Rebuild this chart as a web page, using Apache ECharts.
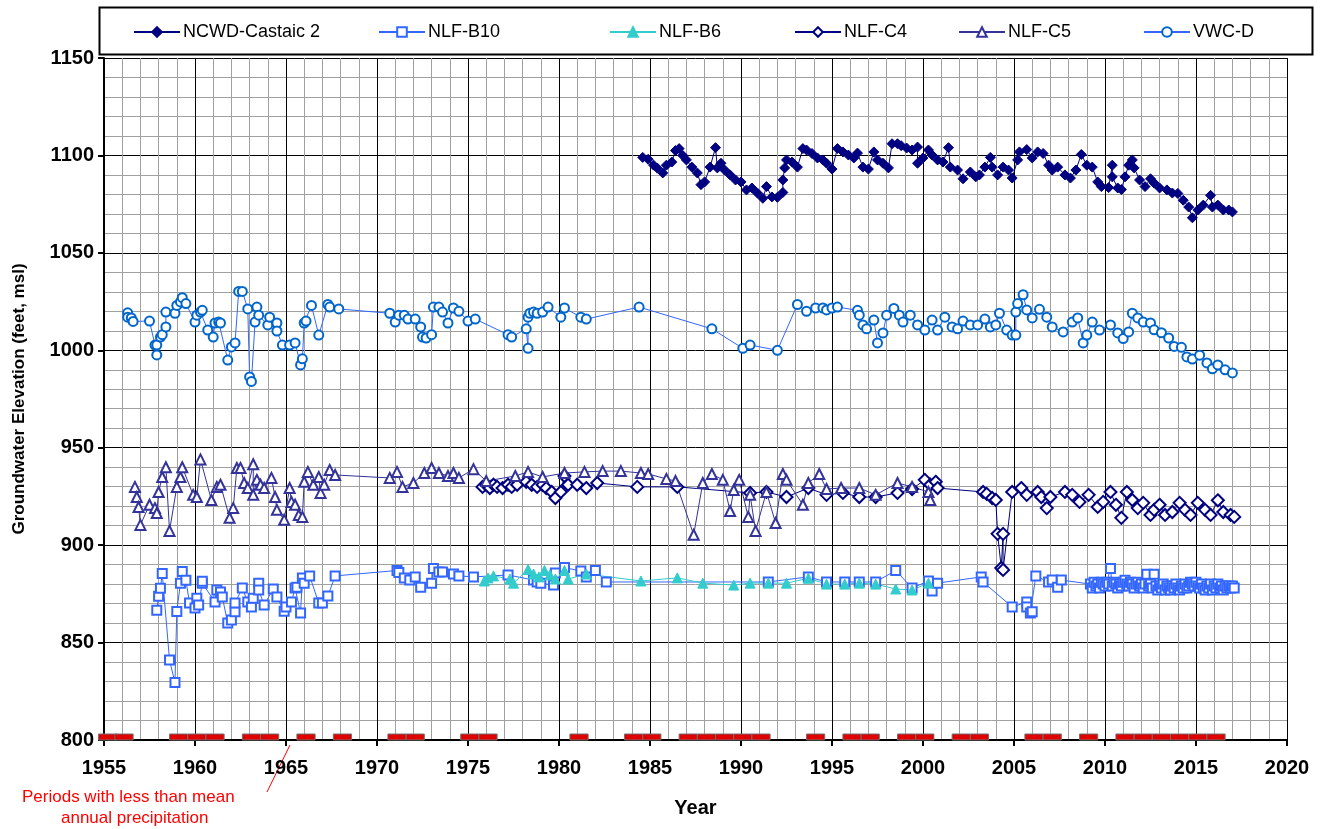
<!DOCTYPE html>
<html>
<head>
<meta charset="utf-8">
<script src="https://cdn.jsdelivr.net/npm/echarts@6/dist/echarts.min.js"></script>
<style>
html,body{margin:0;padding:0;background:#fff;}
#chart{width:1323px;height:829px;}
</style>
</head>
<body>
<div id="chart"></div>
<script>
// ---------------- DATA (year, elevation ft msl) ----------------
const seriesNames = ["NCWD-Castaic 2", "NLF-B10", "NLF-B6", "NLF-C4", "NLF-C5", "VWC-D"];

const ncwdCastaic2 = [
[1984.6,1099],[1984.9,1098],[1985.2,1095],[1985.4,1093.5],[1985.7,1091],[1985.9,1095],[1986.2,1096.6],[1986.4,1102.5],[1986.6,1103.5],[1986.8,1100],
[1987.0,1097.7],[1987.3,1094],[1987.6,1091],[1987.8,1085],[1988.0,1086.4],[1988.3,1094],[1988.6,1104],[1988.7,1093.6],[1988.9,1096],[1989.1,1092.5],
[1989.4,1090],[1989.7,1087.4],[1990.0,1086.4],[1990.3,1082.3],[1990.6,1083.3],[1990.9,1080.7],[1991.2,1078],[1991.4,1084],[1991.7,1078.7],[1992.0,1078.5],
[1992.3,1081],[1992.3,1087.4],[1992.4,1093.6],[1992.5,1097.7],[1992.8,1096.6],[1993.1,1094],[1993.4,1103.5],[1993.6,1102.8],[1993.9,1101],[1994.2,1098.7],
[1994.5,1097.7],[1994.7,1096],[1995.0,1093],[1995.3,1103.5],[1995.6,1101.8],[1995.9,1100.2],[1996.2,1098.7],[1996.4,1101.2],[1996.7,1094],[1997.0,1093],
[1997.3,1101.8],[1997.5,1097.7],[1997.8,1096],[1998.1,1093.6],[1998.3,1106],[1998.6,1106],[1998.8,1105],[1999.1,1103.8],[1999.4,1102.8],[1999.7,1104.3],
[1999.7,1096],[2000.0,1098.7],[2000.3,1102.8],[2000.5,1100.2],[2000.8,1097.7],[2001.1,1096.6],[2001.4,1104],[2001.5,1094],[2001.9,1092.5],[2002.2,1088],
[2002.6,1091.5],[2002.9,1089],[2003.1,1090],[2003.4,1094],[2003.7,1099],[2003.8,1094],[2004.1,1090],[2004.4,1094],[2004.7,1092.5],[2004.9,1088.4],
[2005.2,1097.7],[2005.3,1101.8],[2005.7,1103],[2006.0,1098.7],[2006.3,1101.8],[2006.6,1101],[2006.9,1095],[2007.1,1092.5],[2007.4,1094],[2007.8,1090],
[2008.1,1088.4],[2008.4,1092.5],[2008.7,1100.5],[2009.0,1095],[2009.3,1094],[2009.6,1086.4],[2009.8,1084],[2010.2,1083.5],[2010.4,1095],[2010.4,1089],
[2010.7,1083.3],[2010.9,1082.5],[2011.1,1089],[2011.3,1095],[2011.5,1097.7],[2011.6,1093.6],[2011.9,1087.4],[2012.2,1084],[2012.5,1088],[2012.7,1085.8],
[2013.0,1083.3],[2013.4,1082.3],[2013.7,1080.7],[2014.0,1080.5],[2014.3,1077],[2014.6,1073.5],[2014.8,1068],[2015.1,1072],[2015.4,1074.5],[2015.8,1079.5],
[2015.9,1073.5],[2016.2,1074.5],[2016.5,1072],[2016.8,1072],[2017.0,1071]
];

const nlfB10 = [
[1957.9,866.6],[1958.0,873.8],[1958.1,877.9],[1958.2,885.5],[1958.6,841],[1958.9,829.5],[1959.0,866],[1959.2,880.5],[1959.3,886.5],[1959.5,882],
[1959.7,870.3],[1960.0,867.7],[1960.1,872.8],[1960.2,869.3],[1960.4,880.5],[1960.4,881.5],[1961.1,870.8],[1961.2,877],[1961.4,876],[1961.5,873.4],
[1961.8,860],[1962.0,861.6],[1962.2,865.8],[1962.2,870.3],[1962.6,878],[1962.9,870.8],[1963.1,868.3],[1963.2,872.8],[1963.5,880.5],[1963.5,877],
[1963.8,869.3],[1964.3,877.5],[1964.5,873.4],[1964.9,866.1],[1965.0,868.3],[1965.3,870.8],[1965.5,878],[1965.6,878.4],[1965.8,865.2],[1965.9,883.2],
[1966.0,880.5],[1966.3,884.2],[1966.8,870.3],[1967.0,870.3],[1967.3,873.9],[1967.7,884.2],[1971.1,887],[1971.2,886],[1971.5,883.2],[1971.8,882.1],
[1972.1,883.7],[1972.4,878.4],[1973.0,880.5],[1973.1,888],[1973.4,886.2],[1973.6,886.2],[1974.2,885.2],[1974.5,884.2],[1975.3,883.7],[1977.2,884.7],
[1978.6,882.1],[1978.8,881.1],[1979.0,880.5],[1979.7,879.5],[1979.8,885.7],[1980.3,888.5],[1981.2,886.7],[1981.5,883.7],[1982.0,887],[1982.6,881.1],
[1991.5,881.1],[1993.7,883.7],[1994.7,881.1],[1995.7,881.1],[1996.5,881.1],[1997.4,881.1],[1998.5,887],[1999.4,878],[2000.3,881.6],[2000.5,876.5],
[2000.8,880.5],[2003.2,883.7],[2003.3,881.1],[2004.9,868.3],[2005.7,870.8],[2005.7,868.3],[2005.9,865.2],[2006.0,865.8],[2006.2,884.2],[2006.9,881.1],
[2007.1,882.1],[2007.4,878.4],[2007.6,882.1],
[2009.2,880],[2009.3,878],[2009.4,881],[2009.5,879],[2009.6,880],[2009.7,878],[2009.8,881],[2009.9,880],[2010.0,879],[2010.1,881],
[2010.2,880],[2010.3,888],[2010.4,879],[2010.5,881],[2010.6,880],[2010.7,878],[2010.8,880],[2010.9,879],[2011.0,881],[2011.1,882],
[2011.2,880],[2011.3,879],[2011.4,881],[2011.5,880],[2011.6,878],[2011.7,880],[2011.8,881],[2011.9,879],[2012.0,880],[2012.1,878],
[2012.2,880],[2012.3,885],[2012.4,879],[2012.5,880],[2012.6,878],[2012.7,885],[2012.8,879],[2012.9,877],[2013.0,879],[2013.1,878],
[2013.2,880],[2013.3,877],[2013.4,879],[2013.5,878],[2013.6,877],[2013.7,879],[2013.8,878],[2013.9,880],[2014.0,878],[2014.1,877],
[2014.2,879],[2014.3,878],[2014.4,880],[2014.5,878],[2014.6,879],[2014.7,881],[2014.8,880],[2014.9,879],[2015.0,881],[2015.1,879],
[2015.2,878],[2015.3,880],[2015.4,878],[2015.5,877],[2015.6,879],[2015.7,878],[2015.8,880],[2015.9,877],[2016.0,879],[2016.1,878],
[2016.2,880],[2016.3,878],[2016.4,879],[2016.5,877],[2016.6,879],[2016.7,878],[2016.8,879],[2016.9,878],[2017.0,879],[2017.1,878]
];

const nlfB6 = [
[1975.9,881.6],[1976.1,883.2],[1976.4,884.2],[1977.3,882.6],[1977.5,880.5],[1978.3,887.5],[1978.6,885.2],[1978.9,883.7],[1979.2,887],[1979.5,884.7],
[1979.8,882.6],[1980.3,887],[1980.5,882.6],[1981.5,885.2],[1984.5,881.6],[1986.5,883.2],[1987.9,880.5],[1989.6,879.5],[1990.5,880.5],[1991.5,880.5],
[1992.5,880.5],[1993.7,883],[1994.7,880],[1995.7,880],[1996.5,880.5],[1997.4,880],[1998.5,877.5],[1999.4,877],[2000.3,880.5]
];

const nlfC4 = [
[1975.8,929.9],[1976.0,931],[1976.2,929.3],[1976.4,931],[1976.6,929.9],[1976.9,929.3],[1977.2,931],[1977.4,929.9],[1977.7,931],[1978.2,932.5],
[1978.5,931],[1978.8,929.9],[1979.1,931],[1979.3,929.3],[1979.6,927.3],[1979.8,924.2],[1980.1,927.3],[1980.3,935.5],[1980.5,931],[1981.0,931],
[1981.5,929.3],[1982.1,931.9],[1984.3,929.9],[1986.5,929.9],[1990.5,926.8],[1991.4,927.3],[1992.5,924.7],[1993.7,929.3],[1994.7,925.8],[1995.6,926.8],
[1996.5,924.7],[1997.4,924.7],[1998.6,926.8],[1999.4,928.8],[2000.1,933.5],[2000.4,931],[2000.7,932.5],[2000.8,929.3],[2003.3,927.3],[2003.5,926.3],
[2003.8,924.2],[2004.0,923.2],[2004.1,905.8],[2004.3,888.3],[2004.4,905.8],[2004.4,887.3],[2004.9,927.3],[2005.4,929.3],[2005.7,925.8],[2006.3,927.3],
[2006.5,924.7],[2006.8,919],[2007.0,924.7],[2007.8,927.3],[2008.2,925.8],[2008.6,922.2],[2009.1,925.8],[2009.6,919.6],[2009.9,922.2],[2010.3,927.3],
[2010.6,920.7],[2010.9,914],[2011.2,927.3],[2011.5,923.2],[2011.8,919],[2012.1,921.7],[2012.5,915.5],[2012.7,918.1],[2013.0,920.7],[2013.3,915.5],
[2013.7,917],[2014.1,921.7],[2014.4,918.1],[2014.7,915.5],[2015.1,921.7],[2015.5,918.1],[2015.8,915.5],[2016.2,923],[2016.5,917],[2016.9,915.5],
[2017.1,914.5]
];

const nlfC5 = [
[1956.7,929.9],[1956.8,924.7],[1956.9,919.6],[1957.0,910.4],[1957.5,920.7],[1957.8,919],[1957.9,916.5],[1958.0,927.3],[1958.2,935],[1958.4,940],
[1958.6,907.3],[1959.0,929.9],[1959.2,935],[1959.3,940],[1959.9,925.8],[1960.1,924.7],[1960.3,944],[1960.9,923.2],[1961.2,929.9],[1961.4,931],
[1961.9,914],[1962.1,919],[1962.3,939.6],[1962.5,939.6],[1962.7,931.9],[1962.9,929.3],[1963.2,941.5],[1963.2,925.8],[1963.4,933.5],[1963.6,931],
[1963.8,929.3],[1964.2,934.5],[1964.4,924.7],[1964.5,918.1],[1964.9,913],[1965.2,929.3],[1965.3,922.2],[1965.5,920.7],[1965.7,915.5],[1965.9,914.5],
[1966.0,932.5],[1966.2,937.6],[1966.5,931],[1966.8,935],[1966.9,926.8],[1967.1,931],[1967.4,938.6],[1967.7,936],[1970.7,934.5],[1971.1,937.6],
[1971.4,929.9],[1972.0,931.9],[1972.6,937],[1973.0,939.6],[1973.4,937],[1973.9,935.5],[1974.2,937],[1974.5,934.5],[1975.3,939],[1976.0,932.9],
[1977.6,935.5],[1978.3,937.6],[1979.1,935],[1980.3,937],[1981.4,937.6],[1982.4,938],[1983.4,938],[1984.5,937],[1984.9,936.5],[1985.9,934],
[1986.4,932.9],[1987.4,905.3],[1987.9,931.9],[1988.4,936.5],[1989.0,933.5],[1989.4,917.5],[1989.6,928.3],[1989.9,933.5],[1990.4,914.5],[1990.5,925.8],
[1990.8,907.3],[1991.4,927.3],[1991.9,911.4],[1992.3,936.5],[1992.5,933.5],[1993.4,920.7],[1993.7,931.9],[1994.3,936.5],[1994.7,928.8],[1995.5,929.3],
[1996.5,929.3],[1997.4,925.8],[1998.6,931.9],[1999.4,929.9],[2000.3,927.3],[2000.4,923.2]
];

const vwcD = [
[1956.3,1019.2],[1956.3,1017],[1956.5,1016.6],[1956.6,1014.8],[1957.5,1015],[1957.8,1002.7],[1957.9,997.6],[1957.9,1002.7],[1958.1,1006.8],[1958.2,1008],
[1958.4,1012],[1958.4,1019.6],[1958.9,1019],[1959.0,1023],[1959.2,1024.8],[1959.3,1027],[1959.5,1024],[1960.0,1014.5],[1960.1,1018],[1960.3,1019.6],
[1960.4,1020.5],[1960.7,1010.4],[1961.0,1006.8],[1961.1,1014],[1961.3,1014.5],[1961.4,1014],[1961.8,995],[1962.0,1001.7],[1962.2,1003.8],[1962.4,1030.2],
[1962.6,1030.2],[1962.9,1021.2],[1963.0,986.3],[1963.1,984],[1963.3,1014.5],[1963.4,1022.2],[1963.5,1018],[1964.0,1013],[1964.1,1017],[1964.5,1014],
[1964.5,1009.9],[1964.8,1002.7],[1965.2,1002.7],[1965.5,1003.8],[1965.8,992.5],[1965.9,995.6],[1966.0,1014],[1966.1,1015],[1966.4,1023],[1966.8,1007.8],
[1967.3,1023.5],[1967.4,1022.2],[1967.9,1021.2],[1970.7,1019],[1971.0,1014.5],[1971.2,1018],[1971.5,1018],[1971.7,1016],[1972.1,1016],[1972.4,1012],
[1972.5,1006.8],[1972.7,1006.3],[1973.0,1008],[1973.1,1022.2],[1973.4,1022.2],[1973.6,1019.6],[1973.9,1014],[1974.2,1021.7],[1974.5,1020],[1975.0,1015],
[1975.4,1016],[1977.2,1008],[1977.4,1006.8],[1978.2,1011],[1978.3,1001],[1978.3,1017],[1978.4,1019],[1978.6,1019.6],[1978.8,1019],[1979.1,1019.6],
[1979.4,1022.2],[1980.1,1017],[1980.3,1021.7],[1981.2,1017],[1981.5,1016],[1984.4,1022.2],[1988.4,1011],[1990.1,1001],[1990.5,1002.7],[1992.0,1000],
[1993.1,1023.5],[1993.6,1020],[1994.1,1021.7],[1994.5,1021.7],[1994.7,1020.7],[1995.0,1021.7],[1995.3,1022.2],[1996.4,1020.5],[1996.5,1018],[1996.7,1013],
[1996.9,1011],[1997.3,1015.5],[1997.5,1003.8],[1997.8,1008.9],[1998.0,1018],[1998.4,1021.5],[1998.7,1018],[1998.9,1014.5],[1999.3,1018],[1999.7,1013],
[2000.1,1010.4],[2000.5,1015.5],[2000.8,1010.4],[2001.2,1017],[2001.6,1012],[2001.9,1011],[2002.2,1015],[2002.6,1013],[2003.0,1013],[2003.4,1016],
[2003.7,1012],[2004.0,1013],[2004.2,1019],[2004.6,1010.4],[2004.9,1007.8],[2005.1,1007.8],[2005.1,1019.6],[2005.2,1024],[2005.5,1028.5],[2005.7,1020.7],
[2006.0,1016.6],[2006.4,1021],[2006.8,1017],[2007.1,1012],[2007.7,1009.4],[2008.2,1014.5],[2008.5,1016.6],[2008.8,1003.8],[2009.0,1007.8],[2009.3,1014.5],
[2009.7,1010.4],[2010.3,1013],[2010.7,1008.9],[2011.0,1006],[2011.3,1009.4],[2011.5,1019],[2011.8,1016.6],[2012.1,1014.5],[2012.5,1014],[2012.7,1010.5],
[2013.1,1009],[2013.5,1006.3],[2013.8,1002],[2014.2,1001.5],[2014.5,996.6],[2014.8,995.5],[2015.2,997.5],[2015.6,993.5],[2015.9,990.5],[2016.2,992.5],
[2016.6,990],[2017.0,988.4]
];

// start year of each one-year period with less than mean annual precipitation
const precipStarts = [1954.7,1955.6,1958.6,1959.6,1960.6,1962.6,1963.6,1965.6,1967.6,1970.6,1971.6,1974.6,1975.6,1980.6,1983.6,1984.6,
1986.6,1987.6,1988.6,1989.6,1990.6,1993.6,1995.6,1996.6,1998.6,1999.6,2001.6,2002.6,2005.6,2006.6,2008.6,
2010.6,2011.6,2012.6,2013.6,2014.6,2015.6];

const xTicks = {min:1955, max:2020, step:5};
const yTicks = {min:800, max:1150, step:50};

// ---------------- CHART ----------------
const FONT = "'Liberation Sans', Arial, sans-serif";
const chart = echarts.init(document.getElementById('chart'), null, {renderer:'canvas'});

function lineSeries(name, data, color, symbol, size, symColor, borderW){
  return {
    name: name, type:'line', data: data,
    symbol: symbol, symbolSize: size, showSymbol:true, showAllSymbol:true,
    lineStyle:{color: color, width:1},
    itemStyle:{color: symColor || color, borderColor: symColor || color, borderWidth: borderW || 1.5},
    emphasis:{disabled:true}, silent:true, z: 3
  };
}

const legendLefts = [128, 373, 604, 789, 953, 1138];
const legends = seriesNames.map((n,i)=>({
  data:[n], left: legendLefts[i], top: 18, itemWidth: 46, itemHeight: 12, itemGap: 4,
  textStyle:{fontFamily: FONT, fontSize: 18, color:'#000', padding:[0,0,0,-2]},
  selectedMode:false
}));

const plainNum = v => String(v);

const option = {
  animation:false,
  backgroundColor:'#fff',
  legend: legends,
  grid:{left:104, right:36, top:58, bottom:89, containLabel:false},
  xAxis:{
    type:'value', min:xTicks.min, max:xTicks.max, interval:xTicks.step,
    name:'Year', nameLocation:'middle', nameGap:58,
    nameTextStyle:{fontFamily:FONT, fontSize:20, fontWeight:'bold', color:'#000'},
    axisLine:{show:true, onZero:false, lineStyle:{color:'#000', width:2}},
    axisTick:{show:true, length:6, lineStyle:{color:'#000', width:2}},
    axisLabel:{fontFamily:FONT, fontSize:20, fontWeight:'bold', color:'#000', margin:18, formatter: plainNum},
    splitLine:{show:true, lineStyle:{color:'#000', width:1}},
    minorTick:{show:false, splitNumber:5},
    minorSplitLine:{show:true, lineStyle:{color:'#a0a0a0', width:1}}
  },
  yAxis:{
    type:'value', min:yTicks.min, max:yTicks.max, interval:yTicks.step,
    name:'Groundwater Elevation (feet, msl)', nameLocation:'middle', nameGap:76,
    nameTextStyle:{fontFamily:FONT, fontSize:17, fontWeight:'bold', color:'#000'},
    axisLine:{show:true, onZero:false, lineStyle:{color:'#000', width:2}},
    axisTick:{show:true, length:6, lineStyle:{color:'#000', width:2}},
    axisLabel:{fontFamily:FONT, fontSize:20, fontWeight:'bold', color:'#000', margin:10, formatter: plainNum},
    splitLine:{show:true, lineStyle:{color:'#000', width:1}},
    minorTick:{show:false, splitNumber:5},
    minorSplitLine:{show:true, lineStyle:{color:'#a0a0a0', width:1}}
  },
  series:[
    lineSeries(seriesNames[0], ncwdCastaic2, '#000080', 'diamond', 10, '#000080', 1),
    lineSeries(seriesNames[1], nlfB10, '#3366FF', 'emptyRect', 9, '#3366FF', 2),
    lineSeries(seriesNames[2], nlfB6, '#33CCCC', 'triangle', 10, '#33CCCC', 1),
    lineSeries(seriesNames[3], nlfC4, '#000080', 'emptyDiamond', 12, '#000080', 2),
    lineSeries(seriesNames[4], nlfC5, '#333399', 'emptyTriangle', 10, '#333399', 2),
    lineSeries(seriesNames[5], vwcD, '#3366FF', 'emptyCircle', 9, '#0066CC', 2),
    {
      name:'precip', type:'custom', silent:true, z:5, clip:false,
      data: precipStarts.map(s=>[s, yTicks.min]),
      renderItem: function(params, api){
        const p0 = api.coord([api.value(0), api.value(1)]);
        const p1 = api.coord([api.value(0)+1, api.value(1)]);
        return {type:'rect', shape:{x:p0[0], y:p0[1]-6, width:p1[0]-p0[0], height:6},
                style:{fill:'#E00000', stroke:'#707070', lineWidth:1}};
      }
    }
  ],
  graphic:[
    {type:'rect', left:97, top:5, shape:{width:1213, height:47}, style:{fill:'none', stroke:'#000', lineWidth:2}, z:0},
    {type:'line', shape:{x1:267, y1:792, x2:290, y2:745}, style:{stroke:'#FF0000', lineWidth:1}},
    {type:'text', left:22, top:789, style:{text:'Periods with less than mean', fill:'#FF0000', font:"17px 'Liberation Sans', Arial, sans-serif"}},
    {type:'text', left:61, top:810, style:{text:'annual precipitation', fill:'#FF0000', font:"17px 'Liberation Sans', Arial, sans-serif"}}
  ]
};
chart.setOption(option);
</script>
</body>
</html>
